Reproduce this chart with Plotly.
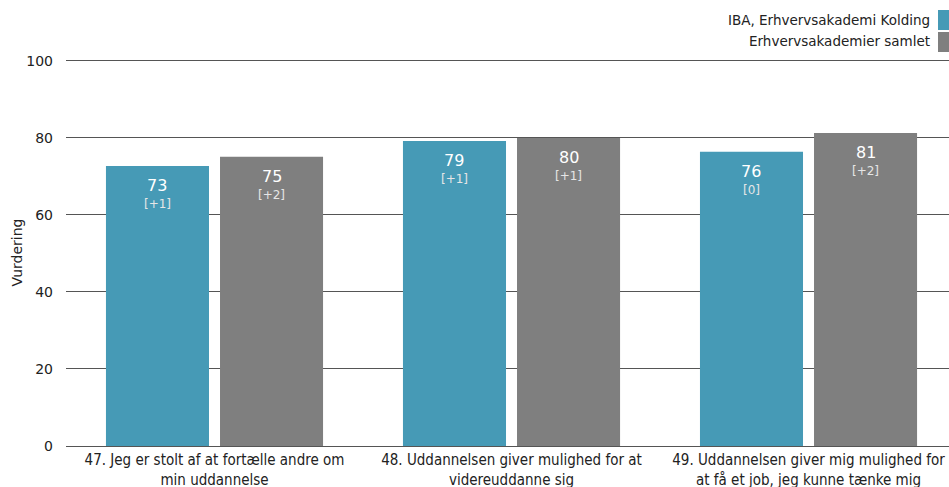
import plotly.graph_objects as go

categories = [
    "47. Jeg er stolt af at fortælle andre om<br>min uddannelse",
    "48. Uddannelsen giver mulighed for at<br>videreuddanne sig",
    "49. Uddannelsen giver mig mulighed for<br>at få et job, jeg kunne tænke mig",
]
series_names = ["IBA, Erhvervsakademi Kolding", "Erhvervsakademier samlet"]
iba_values = [72.7, 79.2, 76.4]
all_values = [75.1, 80.0, 81.3]
iba_labels = ["73", "79", "76"]
all_labels = ["75", "80", "81"]
iba_changes = ["[+1]", "[+1]", "[0]"]
all_changes = ["[+2]", "[+1]", "[+2]"]
y_ticks = [0, 20, 40, 60, 80, 100]

colors = ["#469ab6", "#7f7f7f"]
font_main = "DejaVu Sans"

W, H = 949, 487
l, r, t, b = 66, 0, 59, 41
pw, ph = W - l - r, H - t - b

fig = go.Figure()
for name, vals, col in [(series_names[0], iba_values, colors[0]), (series_names[1], all_values, colors[1])]:
    fig.add_trace(go.Bar(x=[0, 1, 2], y=vals, name=name, marker=dict(color=col, line=dict(width=0)),
                         showlegend=False, hoverinfo="skip"))

annotations = []
offset = 0.192
for i in range(3):
    for vals, labs, chg, dx in [(iba_values, iba_labels, iba_changes, -offset), (all_values, all_labels, all_changes, offset)]:
        annotations.append(dict(x=i + dx, y=vals[i], xref="x", yref="y", yanchor="top", yshift=-8,
                                text=labs[i], showarrow=False,
                                font=dict(family=font_main, size=16, color="#ffffff")))
        annotations.append(dict(x=i + dx, y=vals[i], xref="x", yref="y", yanchor="top", yshift=-29,
                                text=chg[i], showarrow=False,
                                font=dict(family=font_main, size=12, color="#e6e6e6")))

# custom legend (symbols on right), pixel positions in figure coords
legend_y = [20, 41]
shapes = []
for k, name in enumerate(series_names):
    annotations.append(dict(x=(932 - l) / pw, y=(H - b - legend_y[k]) / ph, xref="paper", yref="paper",
                            text=name, showarrow=False, xanchor="right", yanchor="middle",
                            font=dict(family=font_main, size=13.5, color="#222222")))
    x0, x1 = 938, 949
    y0, y1 = 10 + 22 * k, 30 + 22 * k
    shapes.append(dict(type="rect", xref="paper", yref="paper",
                       x0=(x0 - l) / pw, x1=(x1 - l) / pw,
                       y0=(H - b - y1) / ph, y1=(H - b - y0) / ph,
                       fillcolor=colors[k], line=dict(width=0), layer="above"))

fig.update_layout(
    width=W, height=H,
    margin=dict(l=l, r=r, t=t, b=b, autoexpand=False),
    plot_bgcolor="white", paper_bgcolor="white",
    barmode="group", bargap=0.232, bargroupgap=0.0965,
    xaxis=dict(range=[-0.5, 2.473], tickmode="array", tickvals=[0, 1, 2], ticktext=categories,
               showgrid=False, zeroline=False, showline=False, ticks="", automargin=False,
               ticklabelstandoff=3,
               tickfont=dict(family="DejaVu Sans Condensed", size=15, color="#222222")),
    yaxis=dict(range=[0, 100.5], tickvals=y_ticks, showgrid=True, gridcolor="#555555", gridwidth=1,
               zeroline=True, zerolinecolor="#555555", zerolinewidth=1, showline=False,
               ticks="", ticklen=0, automargin=False, ticklabelstandoff=12,
               tickfont=dict(family=font_main, size=14, color="#222222"),
               title=dict(text="Vurdering", font=dict(family=font_main, size=14, color="#222222"), standoff=0)),
    showlegend=False,
    annotations=annotations,
    shapes=shapes,
)

fig.write_html(
    "out.html",
    config={"displayModeBar": False},
    post_script="document.body.style.margin='0';document.body.style.overflow='hidden';",
)
